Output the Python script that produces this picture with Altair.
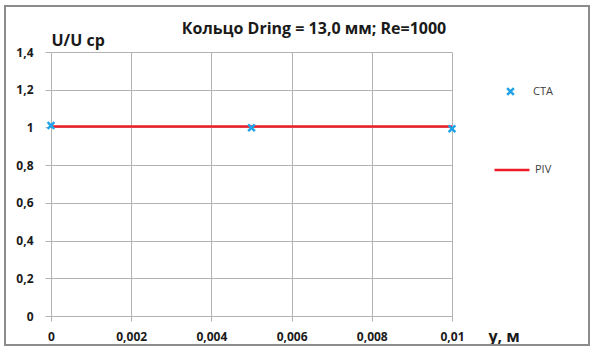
import altair as alt
import pandas as pd

# Measurement positions across the ring, m
cta_y = [0.0, 0.005, 0.01]
# Normalised velocity U/U_cp from the CTA probe
cta_u = [1.01, 0.998, 0.993]
# PIV profile (flat)
piv_y = [0.0, 0.01]
piv_u = [1.005, 1.005]

x_ticks = [0, 0.002, 0.004, 0.006, 0.008, 0.01]
y_ticks = [0, 0.2, 0.4, 0.6, 0.8, 1.0, 1.2, 1.4]

TITLE = "Кольцо Dring = 13,0 мм; Re=1000"

FONT = "Open Sans"
BLUE = "#1fa3e6"
RED = "#ee1c25"
GRID = "#b3b3b3"
TXT = "#1a1a1a"
X_MARK = "M-1,-1L1,1M-1,1L1,-1"

cta = pd.DataFrame({"y": cta_y, "u": cta_u, "series": ["CTA"] * len(cta_y)})
piv = pd.DataFrame({"y": piv_y, "u": piv_u, "series": ["PIV"] * len(piv_y)})

comma = "replace(format(datum.value, '~g'), '.', ',')"

x_enc = alt.X(
    "y:Q",
    scale=alt.Scale(domain=[0, 0.01], nice=False, zero=True),
    axis=alt.Axis(
        values=x_ticks, labelExpr=comma, title="y, м", labelOverlap=False,
        grid=True, gridColor=GRID, domainColor=GRID, tickColor=GRID,
        tickSize=5, labelPadding=10, labelFont=FONT, labelFontSize=12,
        labelFontWeight="bold", labelColor=TXT, labelFlush=False,
        titleFont=FONT, titleFontSize=16, titleFontWeight="bold", titleColor=TXT,
        titleAnchor="start", titleAlign="left", titleBaseline="middle",
        titleX=437, titleY=20,
    ),
)
y_enc = alt.Y(
    "u:Q",
    scale=alt.Scale(domain=[0, 1.4], nice=False),
    axis=alt.Axis(
        values=y_ticks, labelExpr=comma, title="U/U cp", labelOverlap=False,
        grid=True, gridColor=GRID, domain=False, tickColor=GRID,
        tickSize=6, labelPadding=12, labelFont=FONT, labelFontSize=12,
        labelFontWeight="bold", labelColor=TXT, labelFlush=False,
        titleFont=FONT, titleFontSize=16, titleFontWeight="bold", titleColor=TXT,
        titleAngle=0, titleAlign="left", titleBaseline="middle",
        titleX=0, titleY=-12,
    ),
)

line = alt.Chart(piv).mark_line(strokeWidth=2.5).encode(
    x=x_enc, y=y_enc,
    stroke=alt.Stroke(
        "series:N", scale=alt.Scale(domain=["PIV"], range=[RED]),
        legend=alt.Legend(
            title=None, orient="none", legendX=442, legendY=99,
            symbolType="stroke", symbolSize=1225, symbolStrokeWidth=2.5,
            labelFont=FONT, labelFontSize=11, labelColor="#404040", labelOffset=4,
        ),
    ),
)

points = alt.Chart(cta).mark_point(filled=False, size=45, strokeWidth=2.5, color=BLUE, opacity=1).encode(
    x=x_enc, y=y_enc,
    shape=alt.Shape(
        "series:N", scale=alt.Scale(domain=["CTA"], range=[X_MARK]),
        legend=alt.Legend(
            title=None, orient="none", legendX=454, legendY=34,
            symbolSize=45, symbolStrokeWidth=2.5, symbolStrokeColor=BLUE,
            symbolFillColor="transparent",
            labelFont=FONT, labelFontSize=11, labelColor="#404040", labelOffset=17,
        ),
    ),
)

frame = alt.Chart(pd.DataFrame({"k": [0]})).mark_rect(
    fill="transparent", stroke="#8c8c8c", strokeWidth=2
).encode(x=alt.value(-46), x2=alt.value(538), y=alt.value(-46), y2=alt.value(293))

heading = alt.Chart(pd.DataFrame({"t": [TITLE]})).mark_text(
    font=FONT, fontSize=16, fontWeight="bold", color=TXT, align="center", baseline="middle"
).encode(text="t:N", x=alt.value(263), y=alt.value(-23))

chart = (
    alt.layer(frame, line, points, heading)
    .resolve_scale(stroke="independent", shape="independent")
    .properties(
        width=401, height=264,
        autosize=alt.AutoSizeParams(type="none"),
        padding={"left": 51, "top": 52, "right": 140, "bottom": 31},
        background="white",
    )
    .configure_view(strokeWidth=0)
)

chart.save("out.html", embed_options={"renderer": "svg", "actions": False})
